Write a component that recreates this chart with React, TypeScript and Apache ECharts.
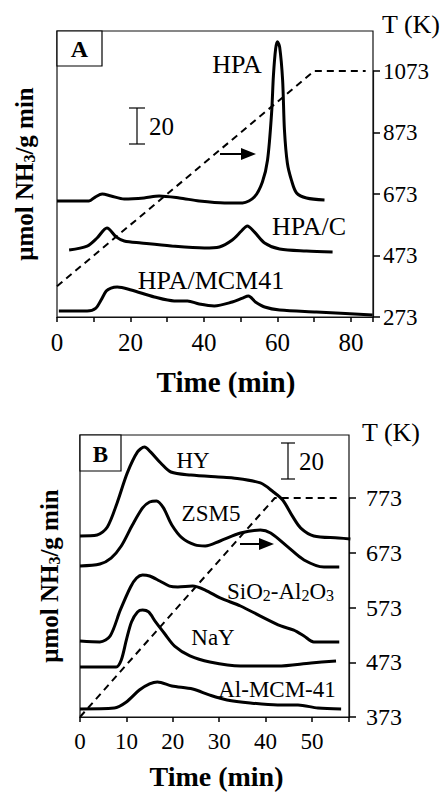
import React, { useEffect, useRef } from 'react';
import * as echarts from 'echarts';

const FONT = '"Liberation Serif", "Times New Roman", serif';

// Panel A (time in min, signal in arbitrary units; scale bar = 20)
const hpa: number[][] = [[0,64.9],[8.7,64.9],[10.4,67.1],[12.3,68.8],[14.7,67.7],[18.3,66],[23.7,66.6],[27.8,67.7],[33.3,66.6],[38.7,64.9],[45.6,63.8],[50.5,63.8],[53.7,67.1],[55.9,75.5],[57.3,87.8],[58.4,114],[58.9,135],[59.5,150],[60,154],[60.6,151],[61.4,132.6],[61.9,104.6],[62.7,86],[63.8,76.6],[65.2,69.4],[67.9,66.6],[72.8,65.5]];
const hpaC: number[][] = [[3.3,37.5],[8.2,39.7],[10.9,44.2],[13.6,49.8],[16.1,44.8],[18.3,42.5],[22.9,41.4],[31.1,39.7],[40.1,38.6],[44.2,39.2],[47.7,43.1],[50.2,48.1],[51.8,50.9],[53.7,47.6],[56.5,41.4],[60.6,38],[67.9,36.9],[75,36.4]];
const hpaMcm: number[][] = [[0.5,3.4],[8.2,3.4],[10.6,5],[12,9.5],[13.4,14.5],[14.7,16.2],[16.4,16.8],[20.2,15.1],[26.5,11.2],[31.9,9],[35.5,9],[38.7,7.3],[42.8,6.2],[47.7,8.4],[50.5,10.6],[52.1,11.7],[54,8.4],[56.5,5.6],[60.6,3.9],[70.6,2.8],[85.9,1.1]];
const tempA: number[][] = [[0,373],[70,1073],[84,1073]];
const tempTicksA = [273, 473, 673, 873, 1073];

// Panel B
const hy: number[][] = [[0,100.8],[3.7,101.3],[5.9,105.8],[8,119.2],[10.2,135.9],[12.4,147.6],[13.9,150.3],[15.2,147.6],[17.4,141.4],[19.6,136.4],[23.9,134.7],[29.8,133.6],[33,133.1],[38.9,130.3],[41.7,125.3],[43.7,120.8],[45.9,111.4],[47.6,105.2],[50.4,100.8],[55.7,99.7],[58.3,99.1]];
const zsm5: number[][] = [[0,84.1],[4.3,85.2],[6.7,88.5],[8.9,95.2],[11.3,106.9],[13.5,116.4],[15,119.7],[16.5,120.3],[18,116.4],[19.8,106.9],[22,99.7],[24.8,95.8],[27,95.2],[30.2,98],[34.6,102.4],[38.9,104.1],[41.1,102.4],[44.8,94.7],[48.3,87.4],[52.6,83.5],[55.9,83.5]];
const sio2: number[][] = [[0,42.3],[4.3,41.8],[6.5,45.1],[8.7,59.6],[10.9,72.4],[12.2,77.4],[13.5,79.1],[15,78.5],[17.2,75.7],[19.3,72.9],[21.1,72.4],[24.3,72.9],[27,70.7],[30.2,66.3],[34.6,61.8],[38.9,56.2],[43.3,50.7],[46.1,48.4],[48.3,45.1],[50.4,41.8],[55.9,41.8]];
const nay: number[][] = [[0,27.8],[7.8,27.8],[8.9,31.7],[10,42.9],[11.1,52.9],[12.4,58.5],[13.5,59.6],[14.8,58.5],[16.3,52.9],[18.3,46.2],[20.4,39.5],[23.7,34],[28,30.6],[34.6,28.4],[42.6,28.4],[49.8,30.1],[55.2,31.2]];
const alMcm: number[][] = [[0,4.5],[7.4,5],[10,8.4],[12.8,15],[15,18.4],[16.7,19.5],[19.8,17.3],[24.3,15.6],[28,12.2],[31.7,9.5],[36.7,7.8],[42.6,6.7],[47,6.7],[51.3,5],[56.3,4.5]];
const tempB: number[][] = [[0,373],[42,773],[56,773]];
const tempTicksB = [373, 473, 573, 673, 773];

const yTitle = '{a|μmol NH}{s|3}{a|/g min}';
const yTitleStyle = {
  color: '#000',
  fontFamily: FONT,
  fontWeight: 'bold',
  fontSize: 25,
  rich: {
    a: { fontFamily: FONT, fontWeight: 'bold', fontSize: 25, lineHeight: 30, verticalAlign: 'bottom', color: '#000' },
    s: { fontFamily: FONT, fontWeight: 'bold', fontSize: 16, verticalAlign: 'bottom', color: '#000' },
  },
};

const lineStyleAxis = { color: '#111', width: 1.2 };
const tickStyle = { color: '#000', width: 1.5 };

function curve(name: string, data: number[][], xi: number, yi: number) {
  return {
    name,
    type: 'line',
    xAxisIndex: xi,
    yAxisIndex: yi,
    data,
    smooth: 0.3,
    showSymbol: false,
    symbol: 'none',
    clip: false,
    lineStyle: { color: '#000', width: 3 },
  };
}

function temp(name: string, data: number[][], xi: number, yi: number) {
  return {
    name,
    type: 'line',
    xAxisIndex: xi,
    yAxisIndex: yi,
    data,
    showSymbol: false,
    symbol: 'none',
    clip: false,
    lineStyle: { color: '#000', width: 2, type: [7, 5] },
  };
}

function txt(text: string, x: number, y: number, size: number, align = 'center', bold = false) {
  return {
    type: 'text',
    x,
    y,
    z: 10,
    style: { text, fill: '#000', fontFamily: FONT, fontSize: size, fontWeight: bold ? 'bold' : 'normal', align, verticalAlign: 'middle' },
  };
}

function line(x1: number, y1: number, x2: number, y2: number, w = 1.2) {
  return { type: 'line', z: 10, shape: { x1, y1, x2, y2 }, style: { stroke: '#000', lineWidth: w } };
}

function arrow(x1: number, x2: number, y: number) {
  return [
    line(x1, y, x2 - 12, y, 2),
    { type: 'polygon', z: 10, shape: { points: [[x2 - 15, y - 6], [x2, y], [x2 - 15, y + 6]] }, style: { fill: '#000' } },
  ];
}

function scaleBar(x: number, y1: number, y2: number, half: number, tx: number) {
  return [
    line(x, y1, x, y2),
    line(x - half, y1, x + half, y1),
    line(x - half, y2, x + half, y2),
    txt('20', tx, (y1 + y2) / 2, 25, 'left'),
  ];
}

export default function App() {
  const ref = useRef<HTMLDivElement>(null);
  useEffect(() => {
    if (!ref.current) return;
    const chart = echarts.init(ref.current, null, { renderer: 'svg' });
    const xAxisBase = (gi: number, max: number, lblFn: (v: number) => string, size: number, padLeft: number, gap: number, nameSize: number) => ({
      gridIndex: gi,
      type: 'value',
      min: 0,
      max,
      interval: 10,
      axisLine: { show: true, onZero: false, lineStyle: lineStyleAxis },
      axisTick: { show: true, length: 5, inside: false, lineStyle: tickStyle },
      axisLabel: { interval: 0, fontFamily: FONT, fontSize: size, color: '#000', margin: 13, formatter: lblFn },
      splitLine: { show: false },
      name: 'Time (min)',
      nameLocation: 'middle',
      nameGap: gap,
      nameTextStyle: { fontFamily: FONT, fontWeight: 'bold', fontSize: nameSize, color: '#000', padding: [0, 0, 0, padLeft] },
    });
    const hiddenX = (gi: number, max: number) => ({ gridIndex: gi, type: 'value', min: 0, max, show: false });
    const leftY = (gi: number, max: number, gap: number) => ({
      gridIndex: gi,
      type: 'value',
      min: 0,
      max,
      axisLine: { show: false, onZero: false },
      axisTick: { show: false },
      axisLabel: { show: false },
      splitLine: { show: false },
      name: yTitle,
      nameLocation: 'middle',
      nameGap: gap,
      nameRotate: 90,
      nameTextStyle: yTitleStyle,
    });
    const rightY = (gi: number, ticks: number[], size: number, margin: number) => ({
      gridIndex: gi,
      type: 'value',
      position: 'right',
      min: ticks[0],
      max: ticks[ticks.length - 1],
      interval: ticks[1] - ticks[0],
      axisLine: { show: true, onZero: false, lineStyle: lineStyleAxis },
      axisTick: { show: true, length: 7, inside: false, lineStyle: tickStyle },
      axisLabel: { fontFamily: FONT, fontSize: size, color: '#000', margin, formatter: (v: number) => String(v) },
      splitLine: { show: false },
    });

    const g = { outerBoundsMode: 'none', containLabel: false };
    chart.setOption({
      animation: false,
      backgroundColor: '#fff',
      grid: [
        { ...g, left: 57, top: 31, width: 316, height: 286, show: true, borderColor: '#111', borderWidth: 1.2 },
        { ...g, left: 57, top: 71, width: 316, height: 246 },
        { ...g, left: 80, top: 435, width: 269, height: 282, show: true, borderColor: '#111', borderWidth: 1.2 },
        { ...g, left: 80, top: 498, width: 269, height: 219 },
      ],
      xAxis: [
        xAxisBase(0, 86, (v: number) => (v % 20 === 0 && v <= 80 ? String(v) : ''), 25, 22, 50, 29),
        hiddenX(1, 86),
        xAxisBase(2, 58, (v: number) => (v % 10 === 0 && v <= 50 ? String(v) : ''), 23, 4, 45, 28),
        hiddenX(3, 58),
      ],
      yAxis: [
        leftY(0, 160, 20),
        rightY(1, tempTicksA, 23, 10),
        leftY(2, 157, 18),
        rightY(3, tempTicksB, 24, 17),
      ],
      series: [
        curve('HPA', hpa, 0, 0),
        curve('HPA/C', hpaC, 0, 0),
        curve('HPA/MCM41', hpaMcm, 0, 0),
        temp('T A', tempA, 1, 1),
        curve('HY', hy, 2, 2),
        curve('ZSM5', zsm5, 2, 2),
        curve('SiO2-Al2O3', sio2, 2, 2),
        curve('NaY', nay, 2, 2),
        curve('Al-MCM-41', alMcm, 2, 2),
        temp('T B', tempB, 3, 3),
      ],
      graphic: [
        { type: 'rect', z: 10, shape: { x: 57, y: 31, width: 45, height: 35 }, style: { fill: '#fff', stroke: '#000', lineWidth: 1.2 } },
        txt('A', 79.5, 49, 24, 'center', true),
        { type: 'rect', z: 10, shape: { x: 80, y: 435, width: 41, height: 36 }, style: { fill: '#fff', stroke: '#000', lineWidth: 1.2 } },
        txt('B', 100.5, 454, 23, 'center', true),
        txt('T (K)', 382, 24, 26, 'left'),
        txt('T (K)', 362, 432, 26, 'left'),
        txt('HPA', 237, 64, 26),
        txt('HPA/C', 309, 226, 26),
        txt('HPA/MCM41', 211, 280, 26),
        txt('HY', 193, 460, 23),
        txt('ZSM5', 211, 513, 23),
        {
          type: 'text',
          x: 227,
          y: 589,
          z: 10,
          style: {
            text: '{a|SiO}{s|2}{a|-Al}{s|2}{a|O}{s|3}',
            fill: '#000',
            align: 'left',
            verticalAlign: 'middle',
            rich: {
              a: { fontFamily: FONT, fontSize: 23, lineHeight: 28, verticalAlign: 'bottom', fill: '#000' },
              s: { fontFamily: FONT, fontSize: 16, verticalAlign: 'bottom', fill: '#000' },
            },
          },
        },
        txt('NaY', 213, 637, 23),
        txt('Al-MCM-41', 277, 689, 23),
        ...scaleBar(137, 108, 144, 8, 149),
        ...scaleBar(288, 443, 479, 7, 299),
        ...arrow(220, 256, 154),
        ...arrow(240, 274, 544),
      ],
    });
    return () => chart.dispose();
  }, []);
  return <div ref={ref} style={{ position: 'fixed', left: 0, top: 0, width: 447, height: 793, background: '#fff' }} />;
}
